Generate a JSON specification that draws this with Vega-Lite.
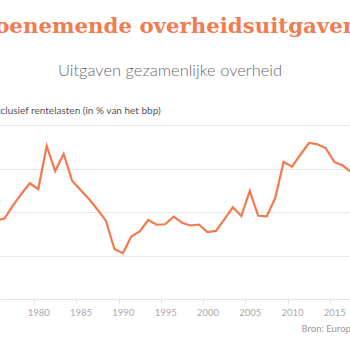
{
  "$schema": "https://vega.github.io/schema/vega-lite/v6.json",
  "width": 350,
  "height": 174,
  "autosize": {"type": "none"},
  "padding": {"left": 0, "right": 0, "top": 125, "bottom": 51},
  "background": "white",
  "title": {
    "text": "Toenemende overheidsuitgaven",
    "subtitle": "Uitgaven gezamenlijke overheid",
    "anchor": "middle",
    "frame": "group",
    "font": "DejaVu Serif",
    "fontSize": 21.3,
    "fontWeight": "bold",
    "color": "#F07C52",
    "subtitleFont": "Lato",
    "subtitleFontSize": 16.5,
    "subtitleFontWeight": 300,
    "subtitleColor": "#6a6a6a",
    "subtitlePadding": 26,
    "offset": 26,
    "dx": -5
  },
  "data": {
    "values": [
      {"jaar": 1975, "uitgaven": 44.0},
      {"jaar": 1976, "uitgaven": 44.25},
      {"jaar": 1977, "uitgaven": 45.74},
      {"jaar": 1978, "uitgaven": 47.07},
      {"jaar": 1979, "uitgaven": 48.3},
      {"jaar": 1980, "uitgaven": 47.64},
      {"jaar": 1981, "uitgaven": 52.59},
      {"jaar": 1982, "uitgaven": 49.71},
      {"jaar": 1983, "uitgaven": 51.67},
      {"jaar": 1984, "uitgaven": 48.6},
      {"jaar": 1985, "uitgaven": 47.53},
      {"jaar": 1986, "uitgaven": 46.49},
      {"jaar": 1987, "uitgaven": 45.29},
      {"jaar": 1988, "uitgaven": 44.0},
      {"jaar": 1989, "uitgaven": 40.75},
      {"jaar": 1990, "uitgaven": 40.25},
      {"jaar": 1991, "uitgaven": 42.18},
      {"jaar": 1992, "uitgaven": 42.76},
      {"jaar": 1993, "uitgaven": 44.08},
      {"jaar": 1994, "uitgaven": 43.54},
      {"jaar": 1995, "uitgaven": 43.59},
      {"jaar": 1996, "uitgaven": 44.46},
      {"jaar": 1997, "uitgaven": 43.77},
      {"jaar": 1998, "uitgaven": 43.45},
      {"jaar": 1999, "uitgaven": 43.56},
      {"jaar": 2000, "uitgaven": 42.7},
      {"jaar": 2001, "uitgaven": 42.82},
      {"jaar": 2002, "uitgaven": 44.14},
      {"jaar": 2003, "uitgaven": 45.54},
      {"jaar": 2004, "uitgaven": 44.54},
      {"jaar": 2005, "uitgaven": 47.41},
      {"jaar": 2006, "uitgaven": 44.57},
      {"jaar": 2007, "uitgaven": 44.51},
      {"jaar": 2008, "uitgaven": 46.57},
      {"jaar": 2009, "uitgaven": 50.75},
      {"jaar": 2010, "uitgaven": 50.21},
      {"jaar": 2011, "uitgaven": 51.61},
      {"jaar": 2012, "uitgaven": 52.93},
      {"jaar": 2013, "uitgaven": 52.79},
      {"jaar": 2014, "uitgaven": 52.32},
      {"jaar": 2015, "uitgaven": 50.75},
      {"jaar": 2016, "uitgaven": 50.34},
      {"jaar": 2017, "uitgaven": 49.6}
    ]
  },
  "mark": {"type": "line", "color": "#F37A4E", "strokeWidth": 2.2, "clip": true},
  "encoding": {
    "x": {
      "field": "jaar",
      "type": "quantitative",
      "scale": {"domain": [1975.48, 2016.85], "nice": false, "zero": false},
      "axis": {
        "values": [1975, 1980, 1985, 1990, 1995, 2000, 2005, 2010, 2015],
        "format": "d",
        "grid": false,
        "domainColor": "#e6e6e6",
        "tickColor": "#e0e0e0",
        "tickSize": 4,
        "tickOffset": -4.3,
        "labelOffset": 4.3,
        "labelFlush": false,
        "labelOverlap": false,
        "labelBound": false,
        "labelFont": "Liberation Sans Narrow, Lato",
        "labelFontSize": 9.5,
        "labelColor": "#aaaaaa",
        "labelPadding": 4,
        "title": "Bron: Europese Commissie",
        "titleX": 301,
        "titleY": 29,
        "titleAlign": "left",
        "titleBaseline": "middle",
        "titleFont": "Liberation Sans Narrow, Lato",
        "titleFontSize": 9.5,
        "titleFontWeight": "normal",
        "titleColor": "#999999"
      }
    },
    "y": {
      "field": "uitgaven",
      "type": "quantitative",
      "scale": {"domain": [35, 55], "nice": false, "zero": false},
      "axis": {
        "values": [35, 40, 45, 50, 55],
        "grid": true,
        "gridColor": "#e8e8e8",
        "labels": false,
        "ticks": false,
        "domain": false,
        "title": "Exclusief rentelasten (in % van het bbp)",
        "titleAngle": 0,
        "titleAlign": "left",
        "titleBaseline": "middle",
        "titleX": -10.5,
        "titleY": -14.7,
        "titleFont": "Lato",
        "titleFontSize": 10,
        "titleFontWeight": "normal",
        "titleColor": "#555555"
      }
    }
  },
  "config": {"view": {"stroke": null}}
}
